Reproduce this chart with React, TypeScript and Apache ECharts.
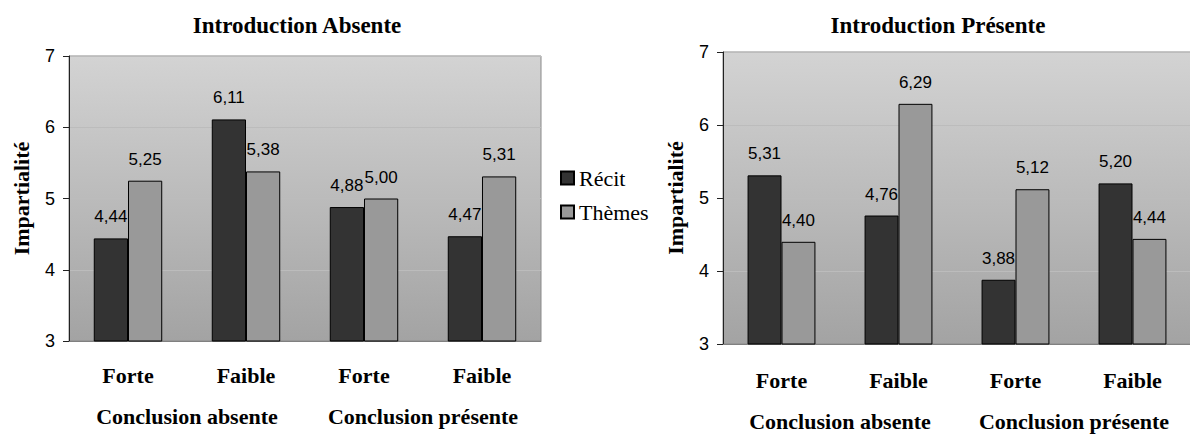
import React, { useEffect, useRef } from "react";
import * as echarts from "echarts";

const categories = ["Forte", "Faible", "Forte", "Faible"];
const groupLabels = ["Conclusion absente", "Conclusion présente"];
const seriesNames = ["Récit", "Thèmes"];
const titles = ["Introduction Absente", "Introduction Présente"];
const yAxisName = "Impartialité";
const absRecit = [4.44, 6.11, 4.88, 4.47];
const absThemes = [5.25, 5.38, 5.0, 5.31];
const presRecit = [5.31, 4.76, 3.88, 5.2];
const presThemes = [4.4, 6.29, 5.12, 4.44];
const yMin = 3;
const yMax = 7;
const yInterval = 1;

const SERIF = "Liberation Serif, Times New Roman, serif";
const SANS = "Liberation Sans, Arial, sans-serif";

export default function App() {
  const ref = useRef<HTMLDivElement>(null);
  useEffect(() => {
    if (!ref.current) return;
    const chart = echarts.init(ref.current, null, { renderer: "svg" });
    const bg = new echarts.graphic.LinearGradient(0, 0, 0, 1, [
      { offset: 0, color: "#d3d3d3" },
      { offset: 1, color: "#a3a3a3" },
    ]);
    const grids = [
      { left: 69, top: 56, width: 472, height: 285 },
      { left: 723, top: 52, width: 468, height: 292 },
    ];
    const colors = ["#333333", "#999999"];
    const labelFmt = (p: any) => Number(p.value).toFixed(2).replace(".", ",");
    const mkSeries = (name: string, data: number[], idx: number, color: string) => ({
      type: "bar",
      name,
      data,
      xAxisIndex: idx * 2,
      yAxisIndex: idx,
      barGap: "0%",
      barCategoryGap: "42%",
      itemStyle: { color, borderColor: "#000", borderWidth: 1 },
      label: {
        show: true,
        position: "top",
        distance: 13,
        formatter: labelFmt,
        fontFamily: SANS,
        fontSize: 17,
        color: "#000",
      },
    });
    const xAxes: any[] = [];
    const yAxes: any[] = [];
    [0, 1].forEach((i) => {
      xAxes.push({
        type: "category",
        gridIndex: i,
        data: categories,
        axisLine: { show: true, lineStyle: { color: "#808080", width: 1 } },
        axisTick: { show: false },
        axisLabel: {
          interval: 0,
          margin: i === 0 ? 23 : 25,
          fontFamily: SERIF,
          fontWeight: "bold",
          fontSize: 22,
          color: "#000",
        },
      });
      xAxes.push({
        type: "category",
        gridIndex: i,
        position: "bottom",
        data: groupLabels,
        axisLine: { show: false },
        axisTick: { show: false },
        axisLabel: {
          interval: 0,
          hideOverlap: false,
          margin: i === 0 ? 64 : 66,
          fontFamily: SERIF,
          fontWeight: "bold",
          fontSize: 22,
          color: "#000",
        },
      });
      yAxes.push({
        type: "value",
        gridIndex: i,
        min: yMin,
        max: yMax,
        interval: yInterval,
        name: yAxisName,
        nameLocation: "middle",
        nameRotate: 90,
        nameGap: 37,
        nameTextStyle: { fontFamily: SERIF, fontWeight: "bold", fontSize: 22, color: "#000" },
        axisLine: { show: true, lineStyle: { color: "#222", width: 1 } },
        axisTick: { show: true, length: 6, lineStyle: { color: "#222" } },
        axisLabel: { margin: 14, fontFamily: SANS, fontSize: 18, color: "#000" },
        splitLine: { show: true, lineStyle: { color: "#bcbcbc", width: 1 } },
      });
    });
    chart.setOption({
      animation: false,
      backgroundColor: "#fff",
      textStyle: { fontFamily: SERIF },
      title: [
        {
          text: titles[0],
          left: 292,
          top: 9,
          textAlign: "center",
          textStyle: { fontFamily: SERIF, fontWeight: "bold", fontSize: 23, color: "#000" },
        },
        {
          text: titles[1],
          left: 933,
          top: 9,
          textAlign: "center",
          textStyle: { fontFamily: SERIF, fontWeight: "bold", fontSize: 23, color: "#000" },
        },
      ],
      legend: {
        data: seriesNames,
        orient: "vertical",
        left: 560,
        top: 167,
        padding: 0,
        itemWidth: 13,
        itemHeight: 13,
        itemGap: 12,
        icon: "rect",
        textStyle: { fontFamily: SERIF, fontSize: 22, color: "#000" },
      },
      grid: grids.map((g) => ({
        ...g,
        show: true,
        backgroundColor: bg,
        borderColor: "#8a8a8a",
        borderWidth: 1,
        containLabel: false,
        outerBoundsMode: "none",
      })),
      xAxis: xAxes,
      yAxis: yAxes,
      series: [
        mkSeries(seriesNames[0], absRecit, 0, colors[0]),
        mkSeries(seriesNames[1], absThemes, 0, colors[1]),
        mkSeries(seriesNames[0], presRecit, 1, colors[0]),
        mkSeries(seriesNames[1], presThemes, 1, colors[1]),
      ],
    });
    return () => chart.dispose();
  }, []);
  return (
    <div
      ref={ref}
      style={{ position: "fixed", left: 0, top: 0, width: 1190, height: 434 }}
    />
  );
}
